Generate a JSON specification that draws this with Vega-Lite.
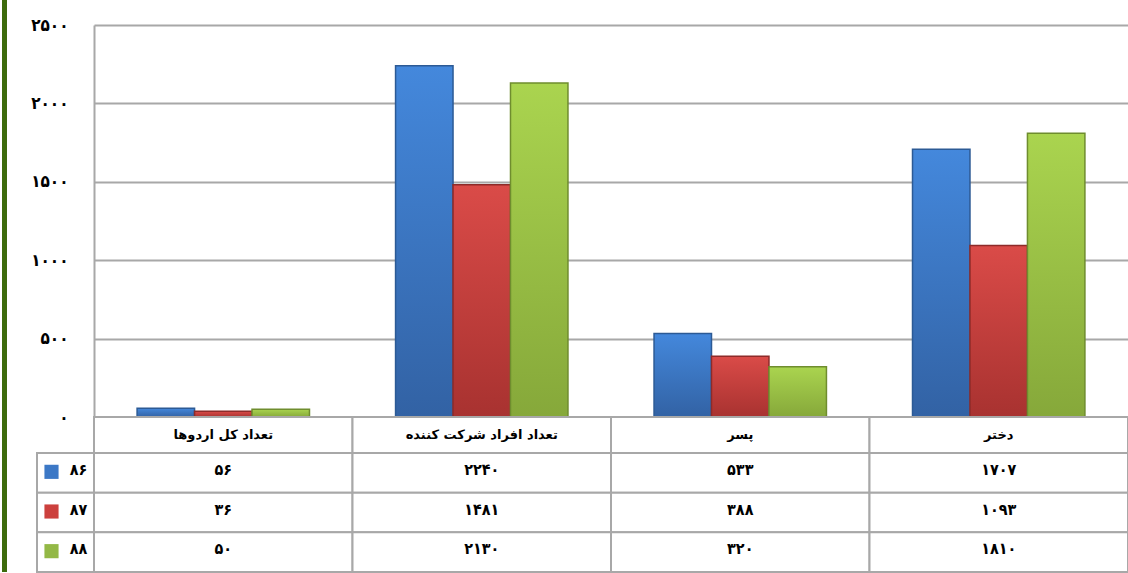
{
  "$schema": "https://vega.github.io/schema/vega-lite/v6.json",
  "padding": {"left": 2, "top": 0, "right": 0, "bottom": 0},
  "autosize": {"type": "pad"},
  "background": "white",
  "datasets": {
    "main": [
      {"category": "تعداد کل اردوها", "series": "۸۶", "value": 56},
      {"category": "تعداد کل اردوها", "series": "۸۷", "value": 36},
      {"category": "تعداد کل اردوها", "series": "۸۸", "value": 50},
      {"category": "تعداد افراد شرکت کننده", "series": "۸۶", "value": 2240},
      {"category": "تعداد افراد شرکت کننده", "series": "۸۷", "value": 1481},
      {"category": "تعداد افراد شرکت کننده", "series": "۸۸", "value": 2130},
      {"category": "پسر", "series": "۸۶", "value": 533},
      {"category": "پسر", "series": "۸۷", "value": 388},
      {"category": "پسر", "series": "۸۸", "value": 320},
      {"category": "دختر", "series": "۸۶", "value": 1707},
      {"category": "دختر", "series": "۸۷", "value": 1093},
      {"category": "دختر", "series": "۸۸", "value": 1810}
    ]
  },
  "columns": 4,
  "spacing": 0,
  "bounds": "flush",
  "align": "each",
  "resolve": {"scale": {"x": "independent", "y": "independent", "color": "independent", "xOffset": "independent"}},
  "concat": [
    {"width": 5, "height": 25, "data": {"values": [{}]}, "mark": {"type": "rect", "color": "#3d6b0c"}, "encoding": {"x": {"value": 0}, "x2": {"value": "width"}, "y": {"value": 0}, "y2": {"value": "height"}}},
    {"width": 30, "height": 1, "data": {"values": []}, "mark": "point", "encoding": {}},
    {"width": 1, "height": 1, "data": {"values": []}, "mark": "point", "encoding": {}},
    {"width": 1, "height": 1, "data": {"values": []}, "mark": "point", "encoding": {}},

    {"width": 5, "height": 392, "data": {"values": [{}]}, "mark": {"type": "rect", "color": "#3d6b0c"}, "encoding": {"x": {"value": 0}, "x2": {"value": "width"}, "y": {"value": 0}, "y2": {"value": "height"}}},
    {"width": 30, "height": 1, "data": {"values": []}, "mark": "point", "encoding": {}},
    {"width": 57, "height": 1, "data": {"values": []}, "mark": "point", "encoding": {}},
    {
      "width": 1034,
      "height": 392,
      "data": {"name": "main"},
      "encoding": {
        "x": {"field": "category", "type": "nominal", "sort": ["تعداد کل اردوها", "تعداد افراد شرکت کننده", "پسر", "دختر"], "scale": {"paddingInner": 0.333, "paddingOuter": 0.1667}, "axis": null},
        "xOffset": {"field": "series", "type": "nominal", "scale": {"domain": ["۸۶", "۸۷", "۸۸"], "paddingInner": 0, "paddingOuter": 0}},
        "y": {
          "field": "value", "type": "quantitative",
          "scale": {"domain": [0, 2500], "nice": false},
          "axis": {
            "values": [0, 500, 1000, 1500, 2000, 2500], "format": "d", "title": null,
            "grid": true, "gridColor": "#a8a8a8", "gridWidth": 2,
            "domainColor": "#a8a8a8", "domainWidth": 2,
            "ticks": false, "tickSize": 0, "labelPadding": 26,
            "labelFont": "DejaVu Sans Condensed", "labelFontSize": 17, "labelFontWeight": "bold", "labelColor": "#000000"
          }
        }
      },
      "layer": [
        {"transform": [{"filter": "datum.series === '۸۶'"}], "mark": {"type": "bar", "stroke": "#2c5a95", "strokeWidth": 1.5, "fill": {"gradient": "linear", "x1": 0, "y1": 0, "x2": 0, "y2": 1, "stops": [{"offset": 0, "color": "#4488dc"}, {"offset": 1, "color": "#3262a4"}]}}},
        {"transform": [{"filter": "datum.series === '۸۷'"}], "mark": {"type": "bar", "stroke": "#8e2b29", "strokeWidth": 1.5, "fill": {"gradient": "linear", "x1": 0, "y1": 0, "x2": 0, "y2": 1, "stops": [{"offset": 0, "color": "#da4b48"}, {"offset": 1, "color": "#a83230"}]}}},
        {"transform": [{"filter": "datum.series === '۸۸'"}], "mark": {"type": "bar", "stroke": "#6f8d2e", "strokeWidth": 1.5, "fill": {"gradient": "linear", "x1": 0, "y1": 0, "x2": 0, "y2": 1, "stops": [{"offset": 0, "color": "#aad44f"}, {"offset": 1, "color": "#86a83a"}]}}}
      ]
    },

    {"width": 5, "height": 36, "data": {"values": [{}]}, "mark": {"type": "rect", "color": "#3d6b0c"}, "encoding": {"x": {"value": 0}, "x2": {"value": "width"}, "y": {"value": 0}, "y2": {"value": "height"}}},
    {"width": 30, "height": 1, "data": {"values": []}, "mark": "point", "encoding": {}},
    {"width": 57, "height": 1, "data": {"values": []}, "mark": "point", "encoding": {}},
    {
      "width": 1034,
      "height": 36,
      "data": {"name": "main"},
      "transform": [{"aggregate": [{"op": "count", "as": "n"}], "groupby": ["category"]}],
      "encoding": {
        "x": {"field": "category", "type": "nominal", "sort": ["تعداد کل اردوها", "تعداد افراد شرکت کننده", "پسر", "دختر"], "scale": {"padding": 0}, "axis": null}
      },
      "layer": [
        {"mark": {"type": "rect", "fill": "white", "stroke": "#a8a8a8", "strokeWidth": 2}},
        {"mark": {"type": "text", "font": "DejaVu Sans", "fontSize": 13, "fontWeight": "bold", "color": "#000000"}, "encoding": {"text": {"field": "category"}}}
      ]
    },

    {"width": 5, "height": 119, "data": {"values": [{}]}, "mark": {"type": "rect", "color": "#3d6b0c"}, "encoding": {"x": {"value": 0}, "x2": {"value": "width"}, "y": {"value": 0}, "y2": {"value": "height"}}},
    {"width": 30, "height": 1, "data": {"values": []}, "mark": "point", "encoding": {}},
    {
      "width": 57,
      "height": 119,
      "data": {"name": "main"},
      "transform": [{"aggregate": [{"op": "count", "as": "n"}], "groupby": ["series"]}],
      "encoding": {
        "y": {"field": "series", "type": "nominal", "scale": {"domain": ["۸۶", "۸۷", "۸۸"], "padding": 0}, "axis": null}
      },
      "layer": [
        {"mark": {"type": "rect", "fill": "white", "stroke": "#a8a8a8", "strokeWidth": 2}},
        {"mark": {"type": "point", "shape": "square", "filled": true, "size": 200, "opacity": 1, "xOffset": -14, "yOffset": -1}, "encoding": {"color": {"field": "series", "type": "nominal", "scale": {"domain": ["۸۶", "۸۷", "۸۸"], "range": ["#3c78c6", "#cc403d", "#93b846"]}, "legend": null}}},
        {"mark": {"type": "text", "font": "DejaVu Sans Condensed", "fontSize": 16, "fontWeight": "bold", "color": "#000000", "dx": 13, "dy": -3}, "encoding": {"text": {"field": "series"}}}
      ]
    },
    {
      "width": 1034,
      "height": 119,
      "data": {"name": "main"},
      "encoding": {
        "x": {"field": "category", "type": "nominal", "sort": ["تعداد کل اردوها", "تعداد افراد شرکت کننده", "پسر", "دختر"], "scale": {"padding": 0}, "axis": null},
        "y": {"field": "series", "type": "nominal", "scale": {"domain": ["۸۶", "۸۷", "۸۸"], "padding": 0}, "axis": null}
      },
      "layer": [
        {"mark": {"type": "rect", "fill": "white", "stroke": "#a8a8a8", "strokeWidth": 2}},
        {"mark": {"type": "text", "font": "DejaVu Sans Condensed", "fontSize": 16, "fontWeight": "bold", "color": "#000000", "dy": -3}, "encoding": {"text": {"field": "value", "type": "quantitative", "format": "d"}}}
      ]
    }
  ],
  "config": {
    "view": {"stroke": null},
    "font": "DejaVu Sans",
    "locale": {
      "number": {
        "decimal": ".",
        "thousands": ",",
        "grouping": [3],
        "currency": ["", ""],
        "numerals": ["۰", "۱", "۲", "۳", "۴", "۵", "۶", "۷", "۸", "۹"]
      }
    }
  }
}
